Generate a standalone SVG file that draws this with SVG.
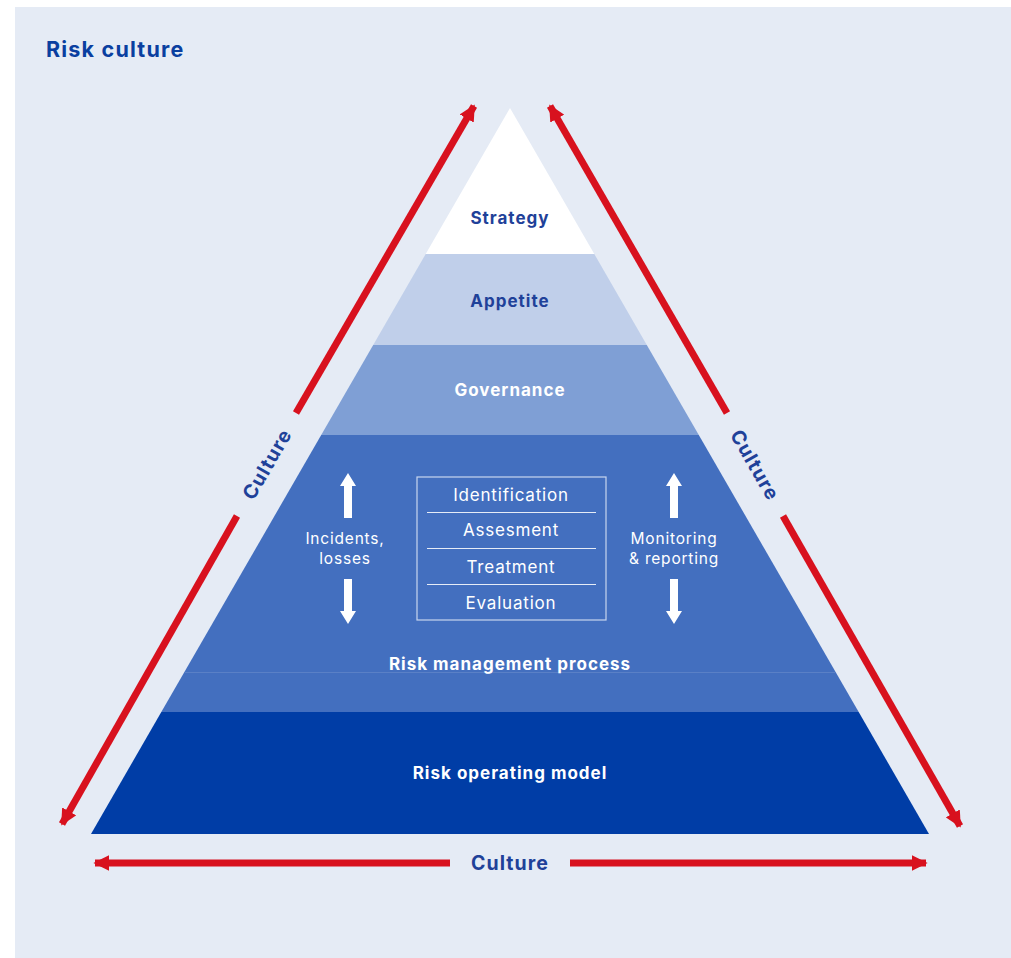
<svg xmlns="http://www.w3.org/2000/svg" width="1011" height="958" viewBox="0 0 1011 958">
<defs>
<style>
.t{font-family:Inter,"Open Sans","Liberation Sans",sans-serif;}
.b{font-weight:700;letter-spacing:1px;}
.dk{fill:#1f4199;}
.wh{fill:#ffffff;}
.red{stroke:#d8111e;stroke-width:7;fill:none;}
.box{font-size:17px;fill:#ffffff;text-anchor:middle;letter-spacing:0.8px;}
.side{font-size:15.5px;fill:#ffffff;text-anchor:middle;letter-spacing:0.8px;}
.cult{font-size:19.5px;font-weight:700;fill:#1f4199;text-anchor:middle;letter-spacing:1.1px;}
</style>
<marker id="rh" viewBox="0 0 10 10" refX="9" refY="5" markerWidth="2.3" markerHeight="2.3" orient="auto" markerUnits="strokeWidth">
<path d="M0,0 L10,5 L0,10 Z" fill="#d8111e"/>
</marker>
</defs>
<rect x="0" y="0" width="1011" height="958" fill="#ffffff"/>
<rect x="15" y="7" width="996" height="951" fill="#e5ebf5"/>
<text class="t" x="46" y="57" font-size="21.5" font-weight="700" letter-spacing="1.2" fill="#0a3fa0">Risk culture</text>

<g id="strategy">
<polygon points="510,108 594.3,254 425.7,254" fill="#ffffff"/>
<text class="t b dk" x="510" y="224" font-size="17" text-anchor="middle">Strategy</text>
</g>
<g id="appetite">
<polygon points="425.7,254 594.3,254 646.8,345 373.2,345" fill="#c0cfea"/>
<text class="t b dk" x="510" y="307" font-size="17" text-anchor="middle">Appetite</text>
</g>
<g id="governance">
<polygon points="373.2,345 646.8,345 698.8,435 321.2,435" fill="#7f9fd5"/>
<text class="t b wh" x="510" y="396" font-size="17" text-anchor="middle">Governance</text>
</g>
<g id="risk-management-process">
<polygon points="321.2,435 698.8,435 835.6,672 184.4,672" fill="#436fbf"/>
<polygon points="184.4,672 835.6,672 858.7,712 161.3,712" fill="#436fbf"/>
<line x1="184.4" y1="672.5" x2="835.6" y2="672.5" stroke="#5a80c6" stroke-width="1"/>
<rect x="417" y="477" width="189" height="143" fill="none" stroke="#c9d6ef" stroke-width="1.2"/>
<g stroke="#e6ecf7" stroke-width="1.2">
<line x1="427" y1="512.5" x2="596" y2="512.5"/>
<line x1="427" y1="548.5" x2="596" y2="548.5"/>
<line x1="427" y1="584.5" x2="596" y2="584.5"/>
</g>
<text class="t box" x="511" y="501">Identification</text>
<text class="t box" x="511" y="536">Assesment</text>
<text class="t box" x="511" y="573">Treatment</text>
<text class="t box" x="511" y="609">Evaluation</text>
<g fill="#ffffff">
<polygon points="348,473 356,486 352,486 352,518 344,518 344,486 340,486"/>
<polygon points="348,624 356,611 352,611 352,579 344,579 344,611 340,611"/>
<polygon points="674,473 682,486 678,486 678,518 670,518 670,486 666,486"/>
<polygon points="674,624 682,611 678,611 678,579 670,579 670,611 666,611"/>
</g>
<text class="t side" x="345" y="544">Incidents,</text>
<text class="t side" x="345" y="564">losses</text>
<text class="t side" x="674" y="544">Monitoring</text>
<text class="t side" x="674" y="564">&amp; reporting</text>
<text class="t b wh" x="510" y="670" font-size="17" text-anchor="middle">Risk management process</text>
</g>
<g id="risk-operating-model">
<polygon points="161.3,712 858.7,712 929,834 91,834" fill="#003da6"/>
<text class="t b wh" x="510" y="779" font-size="17" text-anchor="middle">Risk operating model</text>
</g>

<g id="connectors">
<line class="red" x1="296" y1="413" x2="474" y2="106" marker-end="url(#rh)"/>
<line class="red" x1="237" y1="516" x2="62" y2="824" marker-end="url(#rh)"/>
<line class="red" x1="727" y1="413" x2="550" y2="106" marker-end="url(#rh)"/>
<line class="red" x1="783" y1="516" x2="960" y2="826" marker-end="url(#rh)"/>
<line class="red" x1="450" y1="863" x2="95" y2="863" marker-end="url(#rh)"/>
<line class="red" x1="570" y1="863" x2="926" y2="863" marker-end="url(#rh)"/>
</g>
<g id="culture-labels">
<text class="t cult" x="0" y="0" transform="translate(267,464) rotate(-60) translate(0,7)">Culture</text>
<text class="t cult" x="0" y="0" transform="translate(755,465) rotate(60) translate(0,7)">Culture</text>
<text class="t cult" x="510" y="870">Culture</text>
</g>
</svg>
